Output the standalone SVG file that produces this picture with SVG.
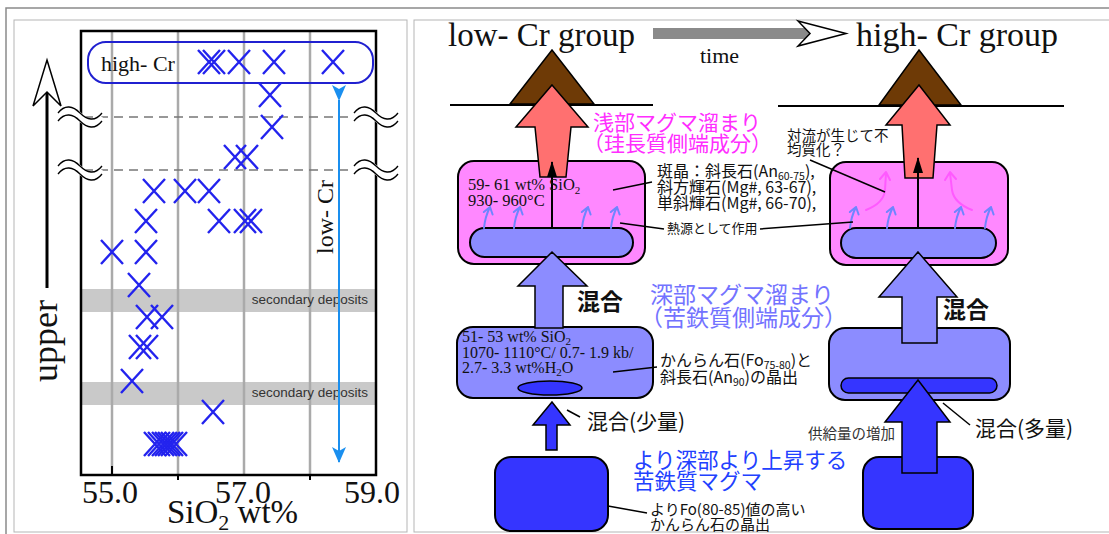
<svg xmlns="http://www.w3.org/2000/svg" width="1109" height="534" viewBox="0 0 1109 534">
<defs>
<style>
.serif{font-family:"Liberation Serif","Times New Roman",serif;fill:#111}
.jp{font-family:"Noto Sans CJK JP","Noto Sans",sans-serif;fill:#111}
.sans{font-family:"Liberation Sans",Arial,sans-serif;fill:#333}
.xm{stroke:#2323ee;stroke-width:2.4;fill:none}
.grid{stroke:#aaa;stroke-width:2.5}
.dash{stroke:#777;stroke-width:1.5;stroke-dasharray:9 6}
.band{fill:#c9c9c9}
.ol{stroke:#000;stroke-width:2}
.lead{stroke:#000;stroke-width:1.5;fill:none}
.sa{stroke:#6f85ff;stroke-width:2;fill:none;stroke-linecap:round;stroke-linejoin:round}
.ma{stroke:#ff5aff;stroke-width:2;fill:none;stroke-linecap:round;stroke-linejoin:round}
.pink{fill:#ff88ff}
.peri{fill:#8c8cff}
.dblue{fill:#3535ff}
.red{fill:#ff7070}
</style>
<path id="xm" d="M-11,-12 L11,12 M-11,12 L11,-12"/>
<g id="brk">
<path d="M-22,0 C-15,-9 -7,-7 0,0 C7,7 15,9 22,0" stroke="#fff" stroke-width="8" fill="none"/>
<path d="M-22,-4 C-15,-13 -7,-11 0,-4 C7,3 15,5 22,-4" stroke="#000" stroke-width="1.3" fill="none"/>
<path d="M-22,4 C-15,-5 -7,-3 0,4 C7,11 15,13 22,4" stroke="#000" stroke-width="1.3" fill="none"/>
</g>
<path id="sar" d="M0,0 Q1,-11 6,-21 M-0.2,-16 L6,-21 L8.6,-13.5"/>
<marker id="bh" markerUnits="userSpaceOnUse" markerWidth="16" markerHeight="10" refX="15" refY="5" orient="auto">
<path d="M0,0 L16,5 L0,10 Z" fill="#000"/>
</marker>
<marker id="bluehead" markerUnits="userSpaceOnUse" markerWidth="16" markerHeight="14" refX="15" refY="7" orient="auto">
<path d="M0,0 L16,7 L0,14 L4,7 Z" fill="#1a8fef"/>
</marker>
</defs>
<rect width="1109" height="534" fill="#fff"/>

<!-- frames -->
<g id="frames" fill="none">
<path d="M6,534 L6,8 L1109,8" stroke="#8a8a8a" stroke-width="1.5"/>
<rect x="14" y="20" width="393" height="512" stroke="#b5b5b5" stroke-width="1"/>
<rect x="414" y="20" width="700" height="512" stroke="#b5b5b5" stroke-width="1"/>
</g>

<!-- LEFT CHART -->
<g id="chart">
<rect class="band" x="81" y="289" width="295" height="23"/>
<rect class="band" x="81" y="382" width="295" height="23"/>
<line class="grid" x1="112" y1="31" x2="112" y2="475"/>
<line class="grid" x1="178" y1="31" x2="178" y2="475"/>
<line class="grid" x1="244" y1="31" x2="244" y2="475"/>
<line class="grid" x1="310" y1="31" x2="310" y2="475"/>
<text class="sans" x="368" y="304" font-size="13.5" text-anchor="end">secondary deposits</text>
<text class="sans" x="368" y="397" font-size="13.5" text-anchor="end">secondary deposits</text>
<line class="dash" x1="84" y1="117" x2="354" y2="117"/>
<line class="dash" x1="84" y1="170" x2="354" y2="170"/>
<rect x="81" y="31" width="295" height="444" fill="none" stroke="#000" stroke-width="2.5"/>
<line x1="112" y1="466" x2="112" y2="475" stroke="#000" stroke-width="2"/>
<line x1="178" y1="475" x2="178" y2="480" stroke="#000" stroke-width="2"/>
<line x1="310" y1="475" x2="310" y2="480" stroke="#000" stroke-width="2"/>
<use href="#brk" x="80" y="117"/>
<use href="#brk" x="80" y="170"/>
<use href="#brk" x="376" y="117"/>
<use href="#brk" x="376" y="170"/>
<text class="serif" x="110" y="503" font-size="32" text-anchor="middle">55.0</text>
<text class="serif" x="243" y="503" font-size="32" text-anchor="middle">57.0</text>
<text class="serif" x="372" y="503" font-size="32" text-anchor="middle">59.0</text>
<text class="serif" x="167" y="523" font-size="33">SiO<tspan font-size="22" dy="7">2</tspan><tspan dy="-7"> wt%</tspan></text>
</g>

<g id="upper-arrow">
<line x1="47" y1="90" x2="47" y2="288" stroke="#000" stroke-width="3"/>
<path d="M47,60 L61,106 L47,92 L33,106 Z" fill="#fff" stroke="#000" stroke-width="1.5"/>
<text class="serif" transform="translate(57,341) rotate(-90)" font-size="36" text-anchor="middle">upper</text>
</g>

<g id="high-cr">
<rect x="88" y="42" width="285" height="41" rx="18" fill="none" stroke="#2020d0" stroke-width="2"/>
<text class="serif" x="101" y="71" font-size="22">high- Cr</text>
</g>

<g id="low-cr">
<line x1="339" y1="100" x2="339" y2="462" stroke="#1a8fef" stroke-width="2" marker-start="url(#bluehead)" marker-end="url(#bluehead)"/>
<text class="serif" transform="translate(333,217) rotate(-90)" font-size="24" text-anchor="middle">low- Cr</text>
</g>

<g id="points" class="xm">
<use href="#xm" x="209" y="62"/><use href="#xm" x="214" y="62"/><use href="#xm" x="239" y="62"/><use href="#xm" x="274" y="62"/><use href="#xm" x="333" y="62"/>
<use href="#xm" x="270" y="95"/><use href="#xm" x="272" y="127"/>
<use href="#xm" x="235" y="157"/><use href="#xm" x="247" y="157"/>
<use href="#xm" x="154" y="191"/><use href="#xm" x="185" y="191"/><use href="#xm" x="209" y="191"/>
<use href="#xm" x="146" y="221"/><use href="#xm" x="219" y="221"/><use href="#xm" x="245" y="221"/><use href="#xm" x="251" y="221"/>
<use href="#xm" x="112" y="252"/><use href="#xm" x="146" y="252"/>
<use href="#xm" x="139" y="285"/>
<use href="#xm" x="147" y="317"/><use href="#xm" x="162" y="317"/>
<use href="#xm" x="140" y="347"/><use href="#xm" x="147" y="347"/>
<use href="#xm" x="132" y="381"/>
<use href="#xm" x="213" y="412"/>
<use href="#xm" x="155" y="444"/><use href="#xm" x="159" y="444"/><use href="#xm" x="163" y="444"/><use href="#xm" x="166" y="444"/><use href="#xm" x="169" y="444"/><use href="#xm" x="172" y="444"/><use href="#xm" x="176" y="444"/>
</g>

<!-- RIGHT PANEL -->
<g id="titles">
<text class="serif" x="448" y="46" font-size="33">low- Cr group</text>
<text class="serif" x="856" y="46" font-size="34">high- Cr group</text>
<text class="serif" x="700" y="63" font-size="22">time</text>
<rect x="653" y="28" width="158" height="11" fill="#8a8a8a"/>
<path d="M798,21 L846,33.5 L798,46 L810,33.5 Z" fill="#fff" stroke="#000" stroke-width="1.5"/>
</g>

<g id="ground">
<line x1="450" y1="105" x2="653" y2="105" stroke="#000" stroke-width="2"/>
<line x1="778" y1="106" x2="1064" y2="106" stroke="#000" stroke-width="2"/>
<polygon points="552,50 594,104 510,104" fill="#6e3a06" stroke="#000" stroke-width="1.5"/>
<polygon points="919,50 961,105 879,105" fill="#6e3a06" stroke="#000" stroke-width="1.5"/>
</g>

<g id="shallow-low">
<rect class="pink ol" x="458" y="161" width="187" height="103" rx="16"/>
<rect class="peri ol" x="470" y="228" width="163" height="29" rx="14.5"/>
<polygon class="red" points="552,85 588,127 571,127 566,177 540,177 535,127 516,127" stroke="#000" stroke-width="1.5"/>
<line x1="552" y1="228" x2="552" y2="162" stroke="#000" stroke-width="2" marker-end="url(#bh)"/>
<g class="sa"><use href="#sar" x="484" y="228"/><use href="#sar" x="514" y="228"/><use href="#sar" x="582" y="228"/><use href="#sar" x="611" y="228"/></g>
<text class="serif" x="468" y="190" font-size="16.5">59- 61 wt% SiO<tspan font-size="11" dy="4">2</tspan></text>
<text class="serif" x="468" y="206" font-size="16.5">930- 960°C</text>
</g>

<g id="shallow-high">
<rect class="pink ol" x="830" y="162" width="178" height="103" rx="16"/>
<rect class="peri ol" x="841" y="228" width="155" height="30" rx="15"/>
<polygon class="red" points="919,85 950,125 937,125 933,178 905,178 902,125 886,125" stroke="#000" stroke-width="1.5"/>
<line x1="918" y1="228" x2="918" y2="158" stroke="#000" stroke-width="2" marker-end="url(#bh)"/>
<g class="sa"><use href="#sar" x="850" y="228"/><use href="#sar" x="887" y="228"/><use href="#sar" x="955" y="228"/><use href="#sar" x="985" y="228"/></g>
<path class="ma" d="M866,210 Q884,203 885,190 L886,173 M880,179 L886,172 L890,180"/>
<path class="ma" d="M972,210 Q954,203 952,190 L950,173 M945,180 L950,172 L956,179"/>
</g>

<g id="deep-low">
<rect class="peri ol" x="457" y="327" width="196" height="71" rx="16"/>
<polygon class="peri" points="552,252 587,286 563,286 563,328 535,328 535,286 518,286" stroke="#000" stroke-width="1.5"/>
<ellipse class="dblue" cx="550" cy="388" rx="32" ry="7" stroke="#000" stroke-width="1.5"/>
<text class="serif" x="462" y="342" font-size="16">51- 53 wt% SiO<tspan font-size="11" dy="3">2</tspan></text>
<text class="serif" x="462" y="358" font-size="16">1070- 1110°C/ 0.7- 1.9 kb/</text>
<text class="serif" x="462" y="373" font-size="16">2.7- 3.3 wt%H<tspan font-size="11" dy="3">2</tspan><tspan dy="-3">O</tspan></text>
</g>

<g id="deep-high">
<rect class="peri ol" x="829" y="328" width="181" height="72" rx="16"/>
<polygon class="peri" points="918,252 957,297 937,297 937,343 902,343 902,297 879,297" stroke="#000" stroke-width="1.5"/>
<rect class="dblue" x="841" y="378" width="156" height="15" rx="7.5" stroke="#000" stroke-width="1.5"/>
</g>

<g id="source-low">
<rect class="dblue ol" x="495" y="457" width="113" height="74" rx="16"/>
<polygon class="dblue" points="552,402 570,425 557,425 557,450 546,450 546,425 533,425" stroke="#000" stroke-width="1.5"/>
</g>

<g id="source-high">
<rect class="dblue ol" x="863" y="457" width="110" height="72" rx="16"/>
<polygon class="dblue" points="918,380 950,422 937,422 937,473 902,473 902,422 885,422" stroke="#000" stroke-width="1.5"/>
</g>

<g id="leaders" class="lead">
<line x1="613" y1="190" x2="652" y2="182"/>
<line x1="620" y1="223" x2="664" y2="229"/>
<line x1="760" y1="229" x2="853" y2="222"/>
<line x1="810" y1="160" x2="885" y2="192"/>
<line x1="613" y1="372" x2="657" y2="367"/>
<line x1="567" y1="410" x2="580" y2="417"/>
<line x1="943" y1="403" x2="970" y2="425"/>
<line x1="608" y1="506" x2="647" y2="513"/>
</g>

<g id="labels">
<text class="jp" x="593" y="130" font-size="21" style="fill:#ff2eff">浅部マグマ溜まり</text>
<text class="jp" x="583" y="151" font-size="21" style="fill:#ff2eff">（珪長質側端成分）</text>
<text class="jp" x="657" y="177" font-size="16">斑晶：斜長石(An<tspan font-size="10.5" dy="3">60-75</tspan><tspan dy="-3">),</tspan></text>
<text class="jp" x="657" y="193" font-size="16">斜方輝石(Mg#, 63-67),</text>
<text class="jp" x="657" y="209" font-size="16">単斜輝石(Mg#, 66-70),</text>
<text class="jp" x="667" y="233" font-size="13">熱源として作用</text>
<text class="jp" x="787" y="141" font-size="14.5">対流が生じて不</text>
<text class="jp" x="787" y="155" font-size="14.5">均質化？</text>
<text class="jp" x="577" y="310" font-size="23" font-weight="bold">混合</text>
<text class="jp" x="943" y="318" font-size="23" font-weight="bold">混合</text>
<text class="jp" x="650" y="303" font-size="23" style="fill:#7373ff">深部マグマ溜まり</text>
<text class="jp" x="640" y="326" font-size="23" style="fill:#7373ff">（苦鉄質側端成分）</text>
<text class="jp" x="660" y="366" font-size="16">かんらん石(Fo<tspan font-size="10.5" dy="3">75-80</tspan><tspan dy="-3">)と</tspan></text>
<text class="jp" x="660" y="383" font-size="16">斜長石(An<tspan font-size="10.5" dy="3">90</tspan><tspan dy="-3">)の晶出</tspan></text>
<text class="jp" x="587" y="429" font-size="21">混合(少量)</text>
<text class="jp" x="975" y="436" font-size="21">混合(多量)</text>
<text class="jp" x="808" y="439" font-size="14.5" style="fill:#333">供給量の増加</text>
<text class="jp" x="633" y="468" font-size="21.5" style="fill:#2241ff">より深部より上昇する</text>
<text class="jp" x="633" y="489" font-size="21.5" style="fill:#2241ff">苦鉄質マグマ</text>
<text class="jp" x="650" y="515" font-size="15">よりFo(80-85)値の高い</text>
<text class="jp" x="650" y="530" font-size="15">かんらん石の晶出</text>
</g>
</svg>
